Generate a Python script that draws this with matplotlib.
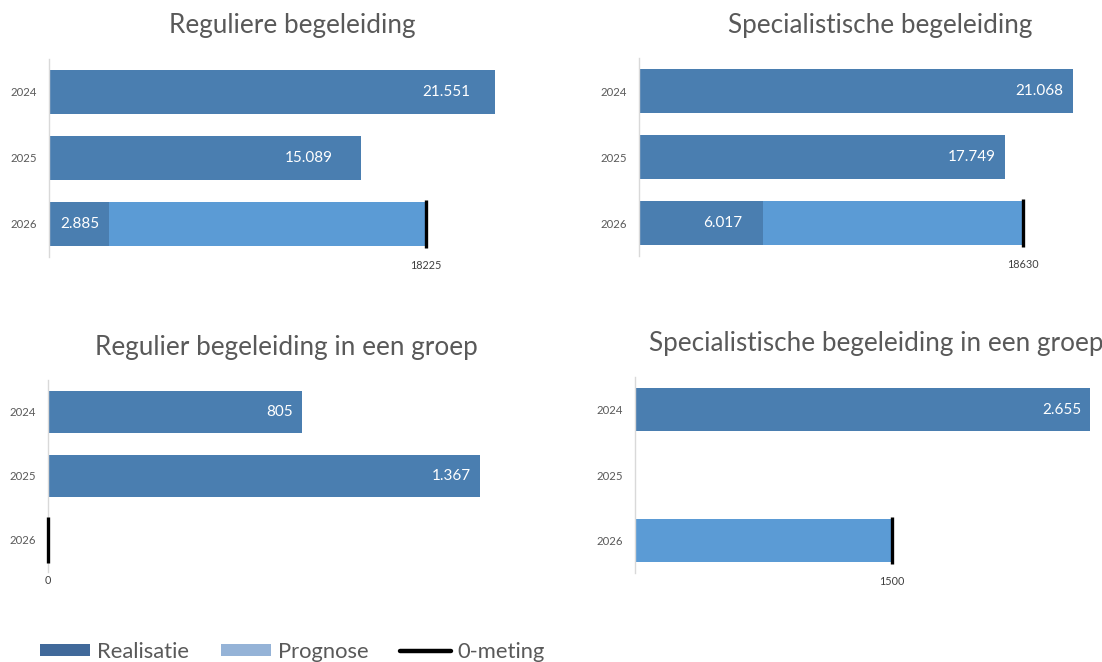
import matplotlib
matplotlib.use("Agg")
import matplotlib.pyplot as plt
from matplotlib.patches import Patch
from matplotlib.lines import Line2D

plt.rcParams['font.family'] = ['Lato', 'DejaVu Sans']

years = ["2024", "2025", "2026"]

titles = [
    "Reguliere begeleiding",
    "Specialistische begeleiding",
    "Regulier begeleiding in een groep",
    "Specialistische begeleiding in een groep",
]
# realised numbers per year (None = no bar)
realisatie = [
    [21551, 15089, 2885],
    [21068, 17749, 6017],
    [805, 1367, None],
    [2655, None, None],
]
# forecast total for 2026 (bar runs from realised value up to this)
prognose_2026 = [18225, 18630, 0, 1500]
# baseline measurement
nulmeting = [18225, 18630, 0, 1500]

DARK = "#4a7eb0"
LIGHT = "#5b9bd5"
LEG_DARK = "#41699a"
LEG_LIGHT = "#95b3d7"
GREY = "#595959"

W, H = 1102, 662
fig = plt.figure(figsize=(W / 100, H / 100), dpi=100)

# panel boxes in pixels: left, right, top, bottom ; x-limit
boxes = [
    (49, 500, 59, 257, 21800),
    (639, 1080, 58, 256, 21400),
    (48, 490, 380, 572, 1399),
    (635, 1095, 377, 573, 2684),
]
title_pos = [(292, 26), (880, 26), (286, 348), (876, 344)]
label_pad = [
    [25, 28, 9],
    [10, 9, 21],
    [9, 9, 9],
    [9, 9, 9],
]

for i, (l, r, t, b, xmax) in enumerate(boxes):
    ax = fig.add_axes([l / W, 1 - b / H, (r - l) / W, (b - t) / H])
    ax.set_xlim(0, xmax)
    ax.set_ylim(2.5, -0.5)
    vals = realisatie[i]
    for j, v in enumerate(vals):
        if v is None:
            continue
        ax.barh(j, v, height=0.667, color=DARK, edgecolor="none")
        ax.annotate(f"{v:,}".replace(",", "."), xy=(v, j), xytext=(-label_pad[i][j] * 0.72, 0),
                    textcoords="offset points", ha="right", va="center",
                    color="white", fontsize=11)
    start = vals[2] or 0
    if prognose_2026[i] > start:
        ax.barh(2, prognose_2026[i] - start, left=start, height=0.667, color=LIGHT, edgecolor="none")
    ax.plot([nulmeting[i], nulmeting[i]], [2 - 0.36, 2 + 0.36], color="black", lw=2.4,
            solid_capstyle="butt", clip_on=False, zorder=5)
    ax.set_yticks(range(3))
    ax.set_yticklabels(years, fontsize=8.2, color=GREY)
    ax.tick_params(axis="y", length=0, pad=9)
    ax.set_xticks([nulmeting[i]])
    ax.set_xticklabels([str(nulmeting[i])], fontsize=7.8, color="#404040")
    ax.tick_params(axis="x", length=0, pad=2)
    for s in ["top", "right", "bottom"]:
        ax.spines[s].set_visible(False)
    ax.spines["left"].set_color("#d9d9d9")
    ax.spines["left"].set_linewidth(1.0)
    tx, ty = title_pos[i]
    fig.text(tx / W, 1 - ty / H, titles[i], ha="center", va="center", fontsize=18.8, color=GREY)

handles = [
    Patch(facecolor=LEG_DARK, edgecolor="none", label="Realisatie"),
    Patch(facecolor=LEG_LIGHT, edgecolor="none", label="Prognose"),
    Line2D([0], [0], color="black", lw=3.2, solid_capstyle="round", label="0-meting"),
]
fig.legend(handles=handles, loc="center left", bbox_to_anchor=(40 / W, 1 - 652 / H), ncol=3,
           frameon=False, fontsize=15.8, labelcolor=GREY, handlelength=2.3, handleheight=0.42,
           handletextpad=0.3, columnspacing=1.45, borderaxespad=0, borderpad=0)

fig.savefig("out.png", dpi=100)
